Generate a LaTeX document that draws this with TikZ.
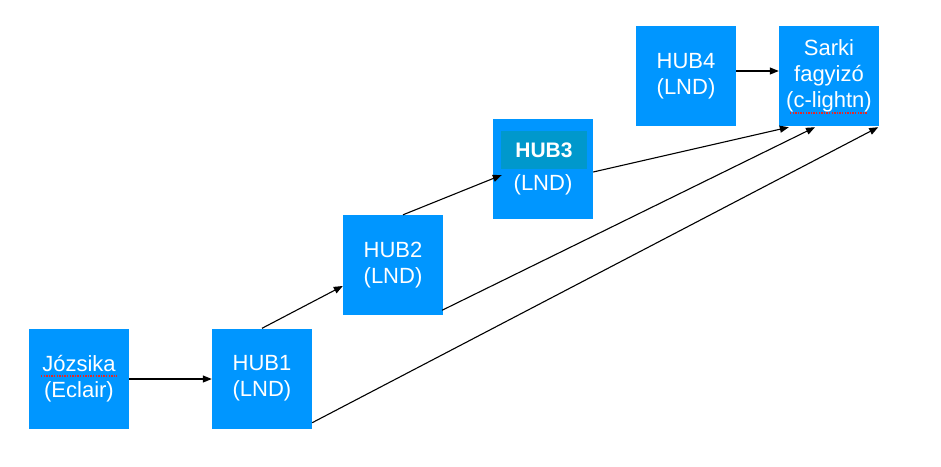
\documentclass[tikz,border=0pt]{standalone}
\usepackage{fontspec}
\setmainfont{Liberation Sans}
\usetikzlibrary{arrows.meta,calc}
\definecolor{boxblue}{RGB}{0,150,255}
\definecolor{hlblue}{RGB}{0,152,204}
\definecolor{spellred}{RGB}{230,40,40}
\begin{document}
\begin{tikzpicture}[x=1pt,y=-1pt,
  box/.style={fill=boxblue,draw=none,minimum width=100pt,minimum height=100pt,inner sep=0pt,
    text=white,align=center,font=\fontsize{22}{26}\selectfont},
  conn/.style={line width=1.1pt,-{Triangle[length=9pt,width=7pt]}},
  spell/.style={spellred,line width=1.4pt,dash pattern=on 1.3pt off 1.3pt}]
\useasboundingbox (0,0) rectangle (941,466);
\node[box] (joz) at (79,379) {Józsika\\(Eclair)};
\node[box] (hub1) at (262,378.5) {HUB1\\(LND)};
\node[box] (hub2) at (393,265) {HUB2\\(LND)};
\node[box] (hub3) at (543,169) {};
\node[fill=hlblue,minimum width=86pt,minimum height=38pt,inner sep=0pt,text=white,
  font=\fontsize{21}{22}\selectfont\bfseries] (hub3t) at (544,150) {HUB3};
\node[text=white,font=\fontsize{22}{26}\selectfont,inner sep=0pt] (hub3l) at (543,185) {(LND)};
\node[box] (hub4) at (686,76) {HUB4\\(LND)};
\node[box] (sarki) at (829,76) {Sarki\\fagyizó\\(c-lightn)};
% spell-check underlines
\coordinate (u1a) at (41,376); \coordinate (u1b) at (117,376);
\draw[spell] (u1a) -- (u1b);
\coordinate (u2a) at (790,113); \coordinate (u2b) at (867,113);
\draw[spell] (u2a) -- (u2b);
% connectors
\draw[conn] (joz.east) -- (joz.east -| hub1.west);
\draw[conn] (hub1.north) -- ([yshift=-21pt]hub2.west);
\draw[conn] ([xshift=10pt]hub2.north) -- ([xshift=9pt,yshift=-6pt]hub3.west);
\draw[conn] ([yshift=-3pt]hub3.east) -- ([xshift=10pt,yshift=-1pt]sarki.south west);
\draw[conn] ([xshift=-1pt,yshift=5pt]hub2.south east) -- ([xshift=-14pt,yshift=-1pt]sarki.south);
\draw[conn] ([yshift=6pt]hub1.south east) -- ([xshift=-1pt,yshift=-1pt]sarki.south east);
\draw[conn] ([yshift=5pt]hub4.east) -- ([yshift=5pt]sarki.west);
\end{tikzpicture}
\end{document}
